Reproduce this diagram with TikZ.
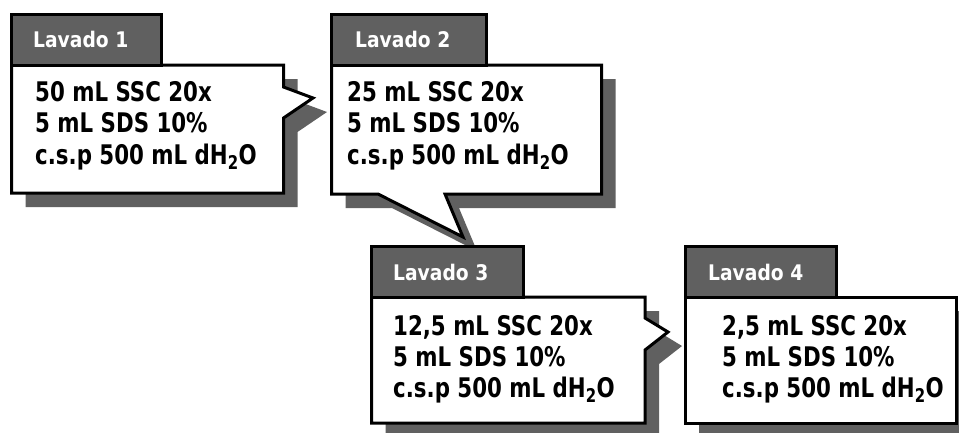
\documentclass[tikz,border=0pt]{standalone}
\usepackage{fontspec}
\setmainfont{DejaVu Sans}[FakeStretch=0.79]
\newfontfamily\tabfont{DejaVu Sans}[FakeStretch=0.87]
\definecolor{tabgray}{RGB}{96,96,96}
\definecolor{shadowgray}{RGB}{96,96,96}
\tikzset{
  x=1pt, y=-1pt,
  callout/.style={draw=black, fill=white, line width=3pt, line join=miter},
  shade/.style={fill=shadowgray, draw=none},
  tabbox/.style={draw=black, fill=tabgray, line width=3pt, line join=miter},
  tablabel/.style={anchor=base west, inner sep=0pt, text=white,
    font=\tabfont\bfseries\fontsize{21.5}{25}\selectfont},
  bodyline/.style={anchor=base west, inner sep=0pt, text=black,
    font=\bfseries\fontsize{27}{32}\selectfont}
}
\newcommand{\water}{dH\textsubscript{2}O}
\begin{document}
\begin{tikzpicture}
\useasboundingbox (0,0) rectangle (959,432);

% --- Lavado 1: callout pointing right
\fill[shade, shift={(14,14)}] (11.5,65) -- (283.5,65) -- (283.5,87) -- (313,98)
  -- (283.5,118) -- (283.5,193) -- (11.5,193) -- cycle;
\draw[callout] (11.5,65) -- (283.5,65) -- (283.5,87) -- (313,98)
  -- (283.5,118) -- (283.5,193) -- (11.5,193) -- cycle;
\draw[tabbox] (11.5,14.5) rectangle (161.5,65);
\node[tablabel] (t1) at (33,47) {Lavado 1};
\node[bodyline] (a1) at (35,101) {50 mL SSC 20x};
\node[bodyline] (b1) at (35,132) {5 mL SDS 10\%};
\node[bodyline] (c1) at (35,164) {c.s.p 500 mL \water};

% --- Lavado 2: callout pointing down
\fill[shade, shift={(14,14)}] (331.5,65) -- (601.5,65) -- (601.5,194) -- (445,194)
  -- (463,237) -- (378,194) -- (331.5,194) -- cycle;
\draw[callout] (331.5,65) -- (601.5,65) -- (601.5,194) -- (445,194)
  -- (463,237) -- (378,194) -- (331.5,194) -- cycle;
\draw[tabbox] (331.5,14.5) rectangle (486.5,65);
\node[tablabel] (t2) at (355,47) {Lavado 2};
\node[bodyline] (a2) at (347,101) {25 mL SSC 20x};
\node[bodyline] (b2) at (347,132) {5 mL SDS 10\%};
\node[bodyline] (c2) at (347,164) {c.s.p 500 mL \water};

% --- Lavado 3: callout pointing right
\fill[shade, shift={(14,14)}] (371.5,297) -- (645,297) -- (645,318) -- (668,332)
  -- (645,350) -- (645,423) -- (371.5,423) -- cycle;
\draw[callout] (371.5,297) -- (645,297) -- (645,318) -- (668,332)
  -- (645,350) -- (645,423) -- (371.5,423) -- cycle;
\draw[tabbox] (371.5,246.5) rectangle (523.5,297);
\node[tablabel] (t3) at (393,280) {Lavado 3};
\node[bodyline] (a3) at (393,335) {12,5 mL SSC 20x};
\node[bodyline] (b3) at (393,366) {5 mL SDS 10\%};
\node[bodyline] (c3) at (393,397) {c.s.p 500 mL \water};

% --- Lavado 4: plain box
\fill[shade, shift={(14,14)}] (685,297) rectangle (956.5,423);
\draw[callout] (685,297) rectangle (956.5,423);
\draw[tabbox] (685,246.5) rectangle (836.5,297);
\node[tablabel] (t4) at (708,280) {Lavado 4};
\node[bodyline] (a4) at (722,335) {2,5 mL SSC 20x};
\node[bodyline] (b4) at (722,366) {5 mL SDS 10\%};
\node[bodyline] (c4) at (722,397) {c.s.p 500 mL \water};
\end{tikzpicture}
\end{document}
